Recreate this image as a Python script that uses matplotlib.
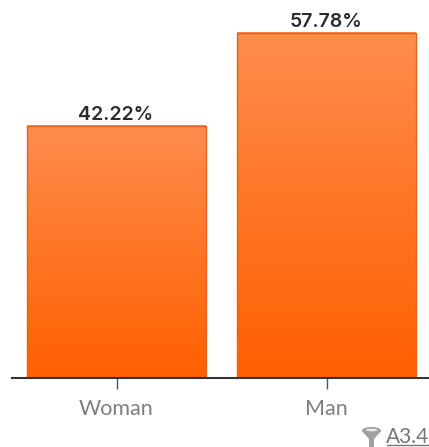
#!/usr/bin/env python3
# -*- coding: utf-8 -*-
import numpy as np
import matplotlib
matplotlib.use("Agg")
import matplotlib.pyplot as plt
from matplotlib.colors import LinearSegmentedColormap
from matplotlib.patches import Ellipse, Polygon, Rectangle

categories = ["Woman", "Man"]
shares = [42.22, 57.78]
value_labels = ["42.22%", "57.78%"]
source_label = "A3.4"

plt.rcParams["font.family"] = ["Lato", "DejaVu Sans"]

W, H = 429, 447
fig = plt.figure(figsize=(W / 100, H / 100), dpi=100)

# axes run from pixel 12 to the right edge, baseline at pixel 378
ax = fig.add_axes([12 / W, (H - 378) / H, (W - 12) / W, 378 / H])
ax.patch.set_alpha(0)

bar_width = 0.848
grad = LinearSegmentedColormap.from_list("bar", ["#FF5F00", "#FF8C4D"])
ramp = np.linspace(0, 1, 256).reshape(-1, 1)

for i, value in enumerate(shares):
    # gradient runs over the height of each bar
    ax.imshow(ramp, cmap=grad, origin="lower", aspect="auto", zorder=2,
              extent=(i - bar_width / 2, i + bar_width / 2, 0, value))
    ax.add_patch(Rectangle((i - bar_width / 2, 0), bar_width, value, facecolor="none",
                           edgecolor="#E5631C", linewidth=1.0, zorder=3))
    ax.annotate(value_labels[i], (i, value), xytext=(-0.5, 1.5), textcoords="offset points",
                ha="center", va="bottom", fontsize=14, fontweight="semibold",
                family=["Inter", "DejaVu Sans"], color="#2B2B2B")

ax.set_xlim(-0.4976, 1.488)
ax.set_ylim(0, 63.25)

for side in ["top", "left", "right"]:
    ax.spines[side].set_visible(False)
ax.spines["bottom"].set_color("#333333")
ax.spines["bottom"].set_linewidth(1.5)
ax.spines["bottom"].set_zorder(5)
ax.set_yticks([])
ax.set_xticks(range(len(categories)))
ax.set_xticklabels(categories, fontsize=15.5, color="#7F7F7F")
ax.tick_params(axis="x", length=8, width=1.0, color="#555555", pad=7)

# pixel overlay for the source link and funnel icon
over = fig.add_axes([0, 0, 1, 1])
over.set_xlim(0, W)
over.set_ylim(H, 0)
over.axis("off")
over.text(429, 443, source_label, ha="right", va="baseline", fontsize=15, color="#777777")
over.plot([387, 429], [445, 445], color="#777777", linewidth=1)
over.add_patch(Polygon([(362, 431), (381, 431), (374, 439), (374, 447), (369, 447), (369, 439)],
                       facecolor="#A0A0A0", edgecolor="none"))
over.add_patch(Ellipse((371.5, 430.5), 19, 7, facecolor="#A0A0A0", edgecolor="none"))
over.add_patch(Ellipse((371.5, 430), 12, 2.5, facecolor="#E8E8E8", edgecolor="none"))

fig.savefig("out.png", dpi=100)
